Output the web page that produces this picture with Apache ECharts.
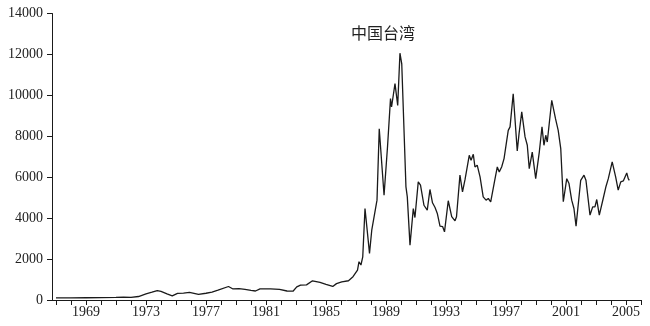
<!DOCTYPE html>
<html><head><meta charset="utf-8">
<script src="https://cdn.jsdelivr.net/npm/echarts@6/dist/echarts.min.js"></script>
<style>html,body{margin:0;padding:0;background:#fff}#c{width:650px;height:326px}</style>
</head><body><div id="c"></div>
<script>
const titleText = '中国台湾';
const yTicks = [0, 2000, 4000, 6000, 8000, 10000, 12000, 14000];
const years = [1967.0,1968.0,1969.0,1970.0,1971.0,1971.5,1972.0,1972.5,1973.0,1973.4,1973.75,1974.0,1974.4,1974.75,1975.1,1975.5,1975.9,1976.5,1977.0,1977.4,1977.8,1978.5,1978.8,1979.2,1979.6,1980.0,1980.3,1980.6,1981.3,1981.9,1982.4,1982.8,1983.05,1983.3,1983.7,1984.1,1984.6,1985.0,1985.45,1985.7,1986.05,1986.5,1986.8,1987.1,1987.2,1987.33,1987.45,1987.6,1987.9,1988.05,1988.15,1988.4,1988.55,1988.87,1989.1,1989.3,1989.37,1989.6,1989.78,1989.93,1990.05,1990.33,1990.42,1990.6,1990.82,1990.93,1991.15,1991.3,1991.53,1991.75,1991.93,1992.1,1992.27,1992.42,1992.6,1992.78,1992.9,1993.15,1993.38,1993.6,1993.7,1993.93,1994.1,1994.27,1994.38,1994.55,1994.67,1994.82,1994.93,1995.08,1995.27,1995.48,1995.67,1995.82,1995.98,1996.27,1996.42,1996.55,1996.71,1996.87,1997.05,1997.15,1997.27,1997.48,1997.75,1997.87,1997.95,1998.05,1998.27,1998.42,1998.55,1998.75,1998.98,1999.22,1999.4,1999.53,1999.65,1999.75,2000.05,2000.15,2000.3,2000.48,2000.65,2000.82,2000.88,2001.05,2001.2,2001.38,2001.53,2001.67,2001.98,2002.08,2002.2,2002.33,2002.6,2002.78,2002.93,2003.05,2003.22,2003.48,2003.67,2003.82,2003.93,2004.08,2004.31,2004.48,2004.65,2004.82,2005.05,2005.15,2005.22];
const values = [100,105,110,115,130,140,130,170,300,380,460,420,300,200,320,340,370,280,330,380,480,660,540,560,520,470,440,540,540,520,440,430,640,730,740,940,860,760,660,800,890,940,1140,1460,1870,1710,2110,4470,2280,3410,3500,4880,8370,5120,7480,9840,9430,10570,9510,12060,11540,5530,5040,2680,4470,4030,5770,5610,4630,4390,5400,4750,4520,4230,3610,3580,3330,4850,4070,3870,4070,6100,5280,5890,5890,7070,6830,7120,6500,6590,6020,5040,4880,4960,4800,5930,6500,6260,6500,6910,7800,8290,8460,10080,7280,8130,8130,9190,7970,7560,6420,7230,5930,7230,8460,7560,8050,7720,9760,9840,8860,8290,7400,4800,4880,5930,5690,4880,4470,3610,5850,5770,6100,5850,4150,4550,4550,4910,4150,4960,5560,5930,5880,6750,6020,5370,5770,5820,6210,5930,5850];
const xLabelYears = [1969, 1973, 1977, 1981, 1985, 1989, 1993, 1997, 2001, 2005];

const chart = echarts.init(document.getElementById('c'), null, {renderer: 'canvas'});
const font = 'Liberation Serif';
const ink = '#1a1a1a';
chart.setOption({
  animation: false,
  backgroundColor: '#fff',
  graphic: [{type: 'text', x: 383, y: 33,
    style: {text: titleText, textAlign: 'center', textVerticalAlign: 'middle',
      font: '16px "Noto Sans CJK SC"', fill: '#222'}}],
  grid: [
    {left: 52, right: 9, top: 13.5, bottom: 26},
    {left: 56, right: 9, top: 13.5, bottom: 26}
  ],
  xAxis: [
    {gridIndex: 0, type: 'value', min: 0, max: 1, axisLine: {show: true, lineStyle: {color: ink, width: 1}},
      axisTick: {show: false}, axisLabel: {show: false}, splitLine: {show: false}},
    {gridIndex: 1, type: 'value', min: 1967, max: 2006, interval: 1,
      axisLine: {show: false},
      axisTick: {show: true, length: 5, lineStyle: {color: ink, width: 1}},
      axisLabel: {margin: 5, fontFamily: font, fontSize: 14, color: '#222',
        formatter: v => xLabelYears.indexOf(v) >= 0 ? String(v) : ''},
      splitLine: {show: false}}
  ],
  yAxis: [
    {gridIndex: 0, type: 'value', min: yTicks[0], max: yTicks[yTicks.length - 1], interval: 2000,
      axisLine: {show: true, lineStyle: {color: ink, width: 1}},
      axisTick: {show: true, length: 5, lineStyle: {color: ink, width: 1}},
      axisLabel: {margin: 9, fontFamily: font, fontSize: 14, color: '#222', formatter: v => String(v)},
      splitLine: {show: false}},
    {gridIndex: 1, type: 'value', min: yTicks[0], max: yTicks[yTicks.length - 1], show: false, splitLine: {show: false}}
  ],
  series: [{
    type: 'line', xAxisIndex: 1, yAxisIndex: 1, showSymbol: false, symbol: 'none',
    lineStyle: {color: ink, width: 1.3},
    data: years.map((y, i) => [y, values[i]])
  }]
});
</script></body></html>
